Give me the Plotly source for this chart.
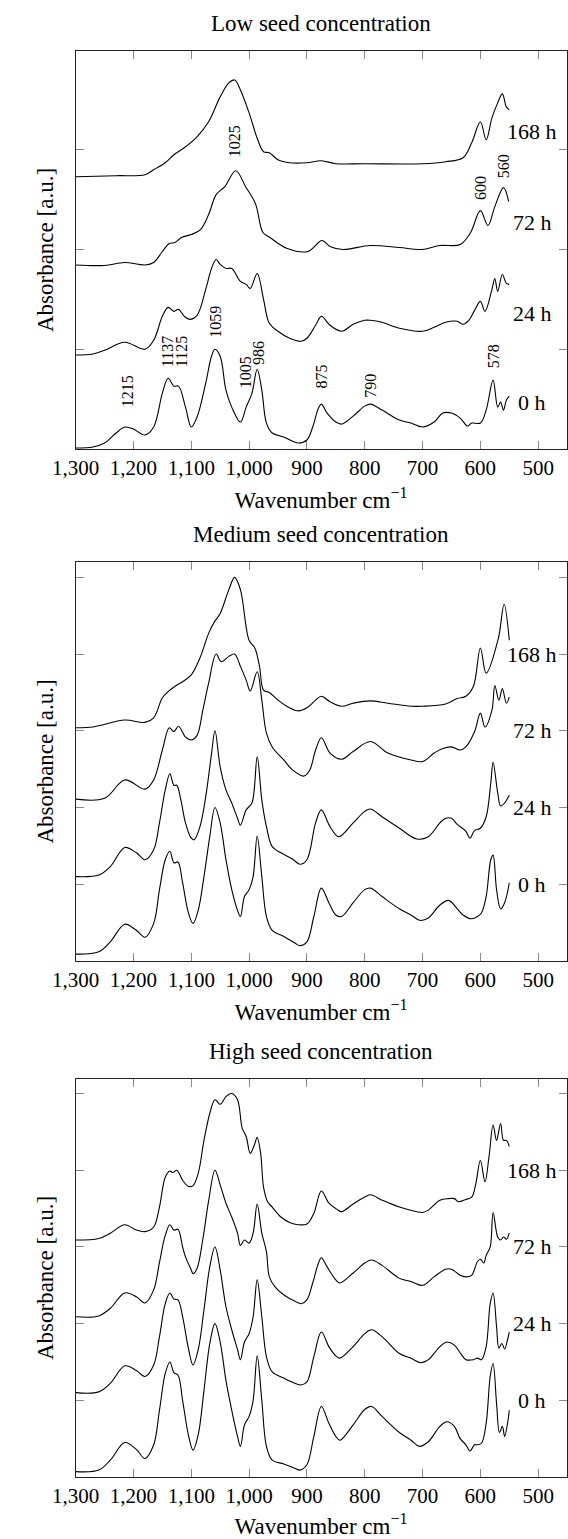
import plotly.graph_objects as go

W, H = 568, 1539
FONT = "Liberation Serif, Times New Roman, serif"

# Wavenumber axis ticks (cm^-1)
X_TICKS = [1300, 1200, 1100, 1000, 900, 800, 700, 600, 500]

PANEL_TITLES = ["Low seed concentration", "Medium seed concentration", "High seed concentration"]
TIMES = ["0 h", "24 h", "72 h", "168 h"]

# Stacked FTIR spectra: (wavenumber, stacked absorbance) pairs
LOW_0H = [(1300, 0.01), (1270, 0.02), (1250, 0.06), (1230, 0.16), (1215, 0.22), (1200, 0.2), (1180, 0.14),
          (1165, 0.22), (1150, 0.56), (1140, 0.71), (1130, 0.63), (1122, 0.63), (1110, 0.42), (1100, 0.22),
          (1090, 0.32), (1075, 0.66), (1065, 0.93), (1059, 1.0), (1050, 0.93), (1040, 0.59), (1030, 0.42),
          (1015, 0.27), (1005, 0.42), (995, 0.56), (986, 0.8), (978, 0.59), (970, 0.26), (960, 0.16),
          (940, 0.12), (915, 0.06), (900, 0.09), (890, 0.22), (880, 0.41), (875, 0.45), (865, 0.36),
          (850, 0.27), (840, 0.25), (820, 0.33), (800, 0.43), (790, 0.45), (770, 0.39), (740, 0.29),
          (720, 0.26), (700, 0.22), (680, 0.27), (665, 0.36), (650, 0.36), (635, 0.31), (622, 0.23),
          (615, 0.26), (600, 0.26), (590, 0.39), (578, 0.69), (570, 0.42), (565, 0.47), (560, 0.39),
          (555, 0.49), (550, 0.53)]
LOW_24H = [(1300, 0.943), (1270, 0.953), (1250, 0.99), (1215, 1.07), (1180, 1.0), (1165, 1.09), (1150, 1.33),
           (1140, 1.42), (1130, 1.38), (1122, 1.40), (1112, 1.33), (1103, 1.30), (1090, 1.34), (1075, 1.6),
           (1065, 1.81), (1057, 1.9), (1050, 1.85), (1040, 1.81), (1030, 1.81), (1015, 1.68), (1005, 1.65),
           (998, 1.61), (986, 1.76), (975, 1.5), (965, 1.26), (950, 1.18), (930, 1.11), (910, 1.08),
           (900, 1.11), (885, 1.24), (875, 1.33), (860, 1.24), (840, 1.18), (820, 1.25), (800, 1.29),
           (790, 1.29), (770, 1.27), (740, 1.21), (700, 1.18), (680, 1.22), (660, 1.27), (640, 1.28),
           (630, 1.25), (620, 1.29), (610, 1.39), (600, 1.48), (592, 1.38), (580, 1.6), (575, 1.71),
           (570, 1.58), (562, 1.75), (555, 1.66), (550, 1.65)]
LOW_72H = [(1300, 1.845), (1250, 1.84), (1215, 1.87), (1180, 1.845), (1165, 1.87), (1150, 1.98), (1138, 2.06),
           (1128, 2.07), (1117, 2.12), (1100, 2.15), (1084, 2.2), (1070, 2.35), (1057, 2.55), (1042, 2.63),
           (1023, 2.79), (1006, 2.63), (989, 2.46), (976, 2.17), (964, 2.12), (934, 2.01), (898, 1.98),
           (874, 2.09), (860, 2.03), (838, 2.0), (790, 2.04), (740, 2.02), (701, 2.0), (671, 2.04),
           (635, 2.05), (617, 2.17), (600, 2.39), (587, 2.24), (575, 2.43), (560, 2.62), (551, 2.48)]
LOW_168H = [(1300, 2.73), (1230, 2.74), (1180, 2.75), (1165, 2.8), (1145, 2.87), (1130, 2.95), (1110, 3.03),
            (1090, 3.13), (1070, 3.28), (1050, 3.53), (1035, 3.67), (1025, 3.7), (1015, 3.6), (1000, 3.37),
            (985, 3.1), (975, 2.98), (965, 2.97), (950, 2.9), (930, 2.87), (900, 2.87), (875, 2.89),
            (850, 2.86), (800, 2.86), (700, 2.86), (660, 2.88), (630, 2.92), (615, 3.07), (600, 3.28),
            (590, 3.1), (580, 3.32), (570, 3.47), (562, 3.56), (555, 3.43), (550, 3.4)]

MED_0H = [(1300, 0.09), (1260, 0.12), (1240, 0.25), (1215, 0.48), (1195, 0.4), (1180, 0.31), (1165, 0.49),
          (1155, 0.93), (1145, 1.32), (1137, 1.43), (1130, 1.28), (1123, 1.29), (1115, 1.02), (1105, 0.63),
          (1097, 0.49), (1088, 0.66), (1078, 1.1), (1068, 1.62), (1059, 2.0), (1050, 1.8), (1040, 1.32),
          (1030, 0.93), (1020, 0.66), (1015, 0.58), (1008, 0.84), (1000, 0.93), (993, 1.1), (986, 1.63),
          (978, 1.1), (970, 0.58), (960, 0.4), (940, 0.32), (920, 0.23), (912, 0.2), (900, 0.25),
          (888, 0.58), (875, 0.95), (862, 0.76), (850, 0.6), (840, 0.58), (820, 0.76), (800, 0.93),
          (790, 0.95), (770, 0.84), (740, 0.68), (720, 0.6), (705, 0.53), (690, 0.56), (670, 0.73),
          (655, 0.79), (640, 0.68), (630, 0.6), (615, 0.55), (605, 0.58), (598, 0.63), (590, 0.84),
          (582, 1.32), (578, 1.38), (572, 0.93), (565, 0.68), (558, 0.76), (550, 1.02)]
MED_24H = [(1300, 1.1), (1260, 1.12), (1240, 1.23), (1215, 1.48), (1195, 1.41), (1180, 1.32), (1165, 1.45),
           (1155, 1.8), (1145, 2.23), (1137, 2.44), (1130, 2.29), (1125, 2.29), (1118, 2.1), (1110, 1.8),
           (1100, 1.6), (1095, 1.58), (1085, 1.75), (1075, 2.14), (1065, 2.7), (1059, 3.0), (1050, 2.53),
           (1040, 2.23), (1030, 2.06), (1020, 1.86), (1015, 1.77), (1005, 1.97), (995, 2.06), (986, 2.66),
           (978, 2.1), (970, 1.75), (960, 1.49), (945, 1.41), (925, 1.33), (912, 1.26), (900, 1.32),
           (885, 1.8), (875, 1.97), (860, 1.75), (845, 1.62), (820, 1.8), (800, 1.95), (790, 1.98),
           (770, 1.88), (740, 1.73), (710, 1.59), (690, 1.62), (670, 1.8), (660, 1.86), (650, 1.86),
           (640, 1.78), (625, 1.69), (618, 1.6), (610, 1.7), (600, 1.73), (590, 1.88), (582, 2.32),
           (578, 2.59), (570, 2.19), (565, 2.02), (558, 2.06), (550, 2.16)]
MED_72H = [(1300, 2.11), (1250, 2.12), (1215, 2.36), (1180, 2.24), (1165, 2.36), (1150, 2.75), (1138, 3.04),
           (1130, 2.99), (1122, 3.06), (1110, 2.92), (1100, 2.88), (1090, 2.94), (1080, 3.27), (1070, 3.62),
           (1057, 4.0), (1048, 3.9), (1035, 3.97), (1025, 4.0), (1015, 3.84), (1005, 3.66), (998, 3.52),
           (986, 3.77), (978, 3.4), (970, 2.97), (960, 2.79), (940, 2.62), (925, 2.49), (905, 2.41),
           (895, 2.49), (885, 2.75), (875, 2.91), (860, 2.71), (840, 2.63), (820, 2.73), (790, 2.86),
           (760, 2.71), (720, 2.62), (700, 2.6), (680, 2.71), (665, 2.77), (650, 2.79), (635, 2.75),
           (625, 2.79), (610, 2.99), (600, 3.23), (592, 3.05), (580, 3.27), (575, 3.59), (568, 3.4),
           (562, 3.55), (555, 3.36), (550, 3.44)]
MED_168H = [(1300, 3.04), (1270, 3.05), (1215, 3.14), (1180, 3.11), (1165, 3.17), (1150, 3.43), (1140, 3.51),
            (1128, 3.58), (1115, 3.64), (1100, 3.73), (1085, 3.95), (1070, 4.27), (1060, 4.42), (1050, 4.53),
            (1035, 4.84), (1025, 5.0), (1015, 4.84), (1000, 4.18), (990, 4.08), (982, 3.84), (975, 3.53),
            (965, 3.5), (950, 3.4), (930, 3.3), (915, 3.26), (900, 3.3), (885, 3.4), (875, 3.45),
            (860, 3.38), (840, 3.32), (820, 3.36), (790, 3.39), (760, 3.36), (720, 3.32), (700, 3.32),
            (660, 3.35), (640, 3.42), (625, 3.45), (612, 3.58), (600, 4.08), (590, 3.75), (569, 4.2),
            (559, 4.65), (550, 4.18)]

HIGH_0H = [(1300, 0.07), (1260, 0.09), (1240, 0.22), (1215, 0.45), (1195, 0.36), (1180, 0.24), (1165, 0.42),
           (1155, 0.87), (1145, 1.35), (1137, 1.5), (1130, 1.36), (1123, 1.33), (1115, 1.0), (1105, 0.55),
           (1097, 0.35), (1088, 0.55), (1078, 1.13), (1068, 1.74), (1059, 2.0), (1050, 1.76), (1040, 1.26),
           (1030, 0.87), (1020, 0.53), (1015, 0.4), (1008, 0.68), (1000, 0.79), (993, 1.0), (986, 1.58),
           (978, 1.0), (970, 0.4), (960, 0.22), (940, 0.17), (920, 0.11), (912, 0.09), (900, 0.16),
           (888, 0.53), (875, 0.92), (862, 0.7), (850, 0.53), (843, 0.48), (820, 0.68), (800, 0.88),
           (788, 0.92), (770, 0.79), (740, 0.58), (720, 0.48), (705, 0.4), (690, 0.46), (670, 0.66),
           (658, 0.72), (645, 0.66), (635, 0.5), (625, 0.42), (618, 0.34), (610, 0.42), (605, 0.42),
           (598, 0.44), (590, 0.7), (583, 1.31), (578, 1.48), (572, 0.96), (567, 0.58), (562, 0.66),
           (558, 0.53), (553, 0.7), (550, 0.87)]
HIGH_24H = [(1300, 1.1), (1260, 1.11), (1240, 1.22), (1215, 1.45), (1195, 1.39), (1180, 1.31), (1165, 1.46),
            (1155, 1.83), (1145, 2.26), (1137, 2.4), (1130, 2.32), (1123, 2.31), (1115, 2.09), (1105, 1.68),
            (1097, 1.46), (1088, 1.66), (1078, 2.18), (1068, 2.74), (1059, 3.0), (1050, 2.7), (1040, 2.22),
            (1030, 1.92), (1020, 1.66), (1015, 1.53), (1008, 1.76), (1000, 1.87), (993, 2.09), (986, 2.57),
            (978, 2.09), (970, 1.57), (960, 1.37), (940, 1.29), (920, 1.22), (910, 1.2), (900, 1.24),
            (888, 1.57), (875, 1.89), (862, 1.7), (850, 1.58), (843, 1.55), (820, 1.7), (800, 1.87),
            (788, 1.92), (770, 1.83), (740, 1.61), (720, 1.55), (703, 1.49), (690, 1.53), (670, 1.7),
            (658, 1.76), (645, 1.72), (635, 1.62), (625, 1.53), (612, 1.53), (605, 1.55), (598, 1.53),
            (590, 1.7), (583, 2.26), (578, 2.4), (572, 1.96), (568, 1.68), (563, 1.74), (558, 1.67),
            (553, 1.79), (550, 1.89)]
HIGH_72H = [(1300, 2.09), (1260, 2.1), (1240, 2.2), (1215, 2.4), (1195, 2.35), (1180, 2.27), (1165, 2.44),
            (1155, 2.8), (1145, 3.15), (1137, 3.29), (1130, 3.22), (1123, 3.23), (1115, 3.0), (1110, 2.87),
            (1100, 2.7), (1097, 2.65), (1090, 2.72), (1080, 3.1), (1070, 3.6), (1059, 4.0), (1050, 3.81),
            (1040, 3.57), (1030, 3.39), (1020, 3.18), (1015, 3.02), (1008, 3.09), (1000, 3.05), (993, 3.18),
            (986, 3.56), (978, 3.18), (970, 2.94), (965, 2.61), (955, 2.48), (935, 2.35), (920, 2.29),
            (910, 2.26), (900, 2.31), (890, 2.53), (880, 2.79), (875, 2.86), (865, 2.74), (850, 2.57),
            (843, 2.53), (820, 2.66), (800, 2.79), (788, 2.83), (770, 2.76), (740, 2.59), (720, 2.55),
            (700, 2.5), (680, 2.61), (660, 2.71), (650, 2.71), (635, 2.63), (625, 2.61), (615, 2.63),
            (605, 2.81), (600, 2.84), (594, 2.79), (590, 2.89), (583, 3.0), (578, 3.45), (570, 3.13),
            (565, 3.09), (560, 3.13), (555, 3.1), (550, 3.18)]
HIGH_168H = [(1300, 3.09), (1260, 3.11), (1240, 3.18), (1215, 3.29), (1195, 3.22), (1180, 3.2), (1165, 3.26),
             (1155, 3.52), (1145, 3.91), (1137, 3.99), (1132, 3.97), (1125, 4.0), (1115, 3.87), (1105, 3.79),
             (1097, 3.8), (1088, 3.96), (1078, 4.39), (1068, 4.74), (1059, 4.92), (1050, 4.86), (1040, 4.96),
             (1030, 5.0), (1020, 4.92), (1012, 4.55), (1005, 4.44), (998, 4.22), (990, 4.35), (986, 4.43),
             (980, 4.22), (975, 3.78), (968, 3.59), (960, 3.52), (945, 3.39), (930, 3.32), (915, 3.29),
             (900, 3.3), (888, 3.44), (875, 3.73), (862, 3.57), (848, 3.49), (840, 3.46), (820, 3.56),
             (800, 3.65), (790, 3.68), (770, 3.61), (740, 3.52), (710, 3.46), (700, 3.45), (690, 3.48),
             (670, 3.61), (655, 3.63), (645, 3.63), (638, 3.59), (625, 3.62), (615, 3.65), (608, 3.82),
             (600, 4.13), (592, 3.85), (585, 4.18), (578, 4.59), (572, 4.39), (565, 4.61), (560, 4.39),
             (555, 4.39), (550, 4.31)]

SPECTRA = [
    [LOW_0H, LOW_24H, LOW_72H, LOW_168H],
    [MED_0H, MED_24H, MED_72H, MED_168H],
    [HIGH_0H, HIGH_24H, HIGH_72H, HIGH_168H],
]

# Where each time label sits (stacked absorbance units)
TIME_LABEL_Y = [
    [0.47, 1.36, 2.27, 3.18],
    [1, 2, 3, 4],
    [1, 2, 3, 4],
]
Y_RANGES = [[0, 3.99], [0, 5.2], [0, 5.19]]
Y_TICKS = [[1, 2, 3], [1, 2, 3, 4, 5], [1, 2, 3, 4, 5]]

# Band assignments marked on the low-seed spectra: label, wavenumber position, height
BAND_LABELS = ["1025", "600", "560", "1215", "1137", "1125", "1059", "1005", "986", "875", "790", "578"]
BAND_X = [1025, 600, 560, 1211, 1141, 1117, 1058, 1007, 985, 875, 790, 578]
BAND_Y = [2.9, 2.48, 2.7, 0.4, 0.8, 0.8, 1.09, 0.59, 0.82, 0.59, 0.49, 0.79]

# Panel frames in page pixels: (top, bottom)
FRAMES = [(51, 449), (562, 961), (1079, 1477)]
LEFT_PX, RIGHT_PX = 54, 567.5


def py(p):
    return 1 - p / H


fig = go.Figure()
annotations = []
title_font = dict(family=FONT, size=23, color="black")

for i, spectra in enumerate(SPECTRA):
    suffix = "" if i == 0 else str(i + 1)
    xa, ya = "x" + suffix, "y" + suffix
    for name, series in zip(TIMES, spectra):
        fig.add_trace(go.Scatter(
            x=[p[0] for p in series], y=[p[1] for p in series],
            mode="lines", name=name, xaxis=xa, yaxis=ya,
            line=dict(color="black", width=1.1, shape="spline", smoothing=1.0),
            showlegend=False, hoverinfo="skip",
        ))
    for name, ly in zip(TIMES, TIME_LABEL_Y[i]):
        annotations.append(dict(x=510, y=ly, xref=xa, yref=ya, text=name, showarrow=False,
                                xanchor="center", yanchor="middle",
                                font=dict(family=FONT, size=22, color="black")))

    top, bottom = FRAMES[i]
    axis_common = dict(showline=True, linecolor="#222", linewidth=1, mirror="allticks",
                       ticks="inside", ticklen=8, tickcolor="#888", tickwidth=1,
                       showgrid=False, zeroline=False)
    fig.layout["xaxis" + suffix] = dict(
        domain=[LEFT_PX / W, RIGHT_PX / W], anchor=ya, range=[1300, 451], autorange=False,
        tickvals=X_TICKS, tickformat=",", tickfont=dict(family=FONT, size=21, color="black"),
        title=dict(text="Wavenumber cm<sup>\u22121</sup>", font=title_font, standoff=12),
        **axis_common)
    fig.layout["yaxis" + suffix] = dict(
        domain=[py(bottom), py(top)], anchor=xa, range=Y_RANGES[i], autorange=False,
        tickvals=Y_TICKS[i], showticklabels=False,
        title=dict(text="Absorbance [a.u.]", font=title_font, standoff=14),
        **axis_common)

    cx = (LEFT_PX + RIGHT_PX) / 2 / W
    annotations.append(dict(x=cx, y=py(top - 28), xref="paper", yref="paper",
                            text=PANEL_TITLES[i], showarrow=False, xanchor="center", yanchor="middle",
                            font=title_font))

for label, bx, by in zip(BAND_LABELS, BAND_X, BAND_Y):
    annotations.append(dict(x=bx, y=by, xref="x", yref="y", text=label, showarrow=False,
                            textangle=-90, xanchor="center", yanchor="bottom",
                            font=dict(family=FONT, size=16, color="black")))

fig.update_layout(
    width=W, height=H, margin=dict(l=0, r=0, t=0, b=0),
    paper_bgcolor="white", plot_bgcolor="white",
    annotations=annotations, showlegend=False,
)

fig.write_html("out.html")
